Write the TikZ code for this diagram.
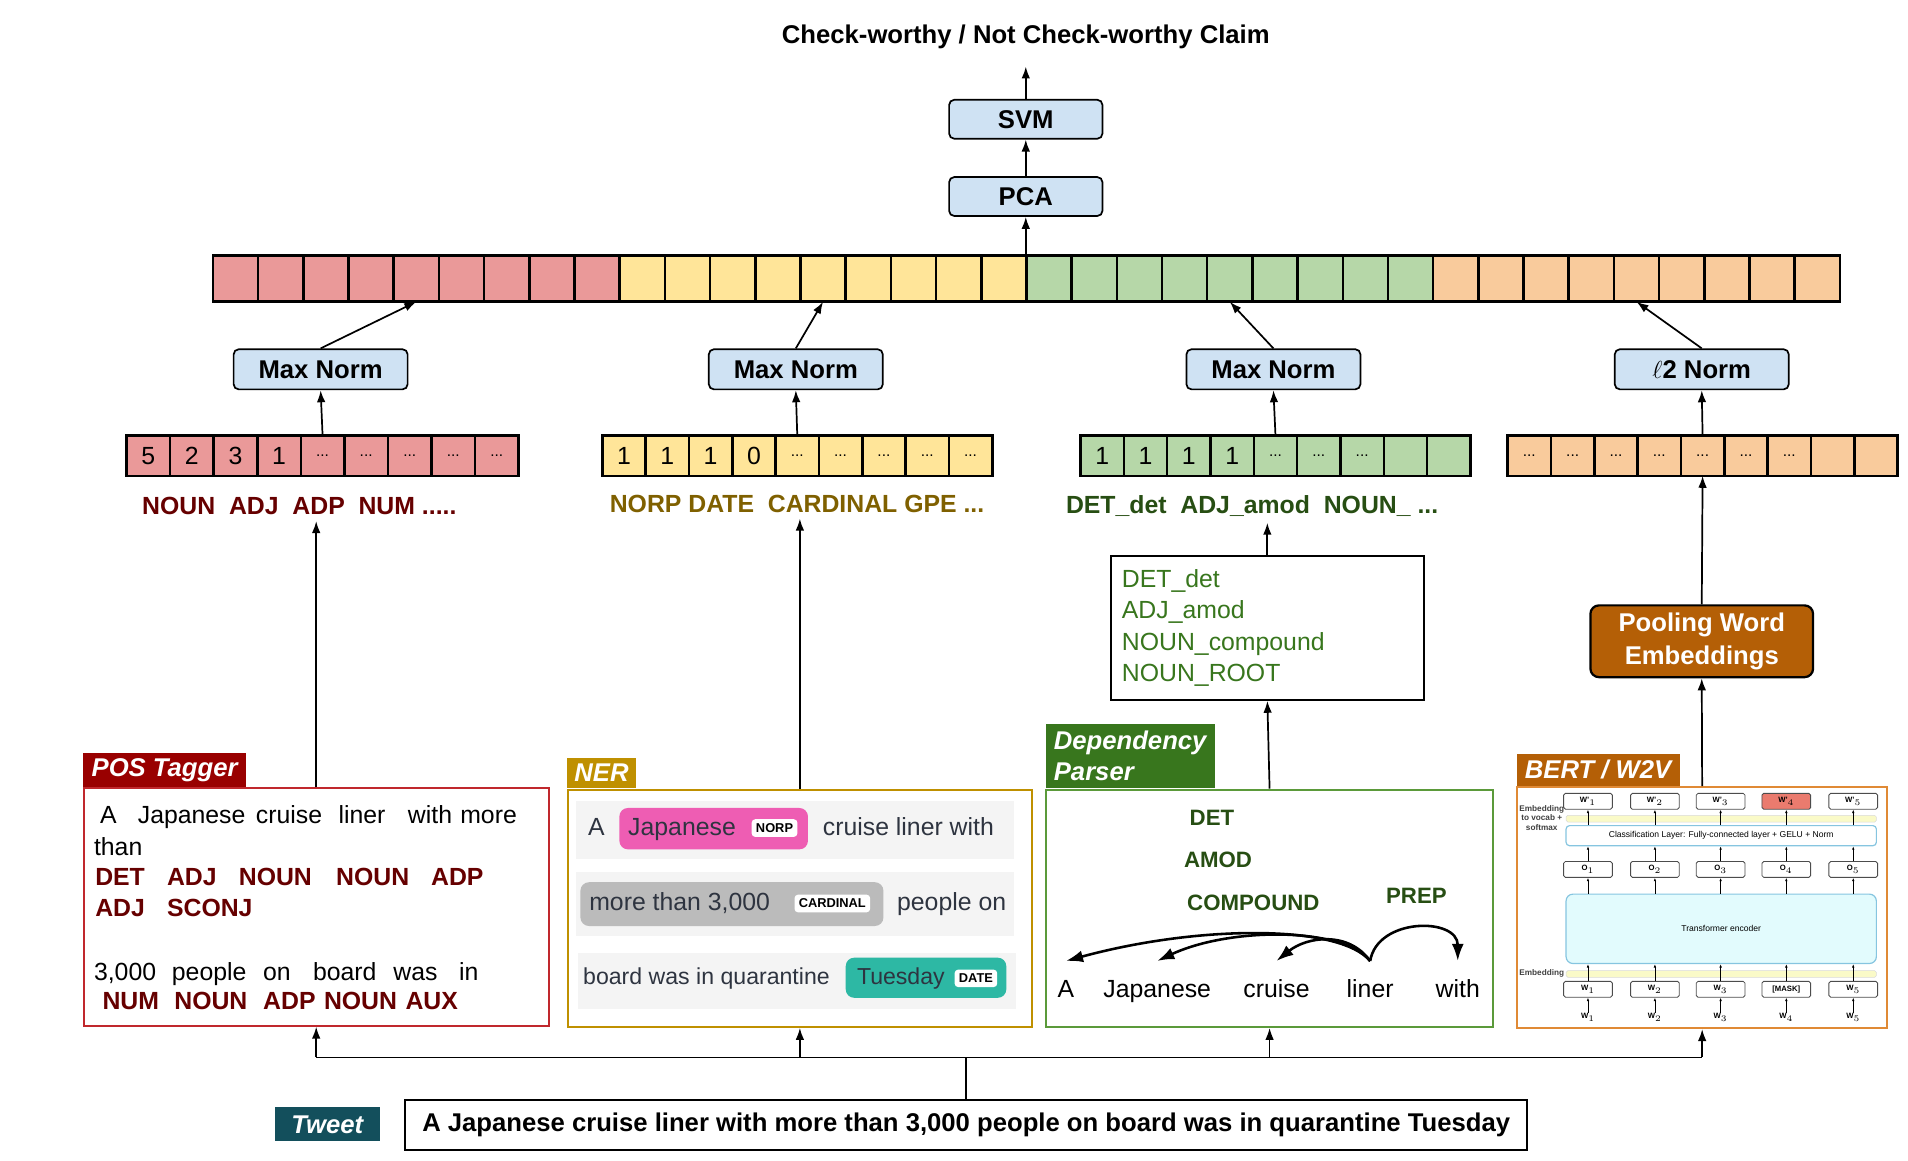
\documentclass[tikz,border=0pt]{standalone}
\usepackage{fontspec}
\setmainfont{Liberation Sans}
\usepackage{tikz}
\usetikzlibrary{arrows,arrows.meta}
\usetikzlibrary{calc}
\usetikzlibrary{positioning}

\definecolor{cwRed}{HTML}{EA9999}
\definecolor{cwYellow}{HTML}{FFE599}
\definecolor{cwGreen}{HTML}{B6D7A8}
\definecolor{cwOrange}{HTML}{F9CB9C}
\definecolor{cwBlue}{HTML}{CFE2F3}
\definecolor{posTab}{HTML}{990000}
\definecolor{posLine}{HTML}{C0282D}
\definecolor{posText}{HTML}{660000}
\definecolor{nerTab}{HTML}{BF9000}
\definecolor{nerText}{HTML}{7F6000}
\definecolor{nerInk}{HTML}{2E3440}
\definecolor{nerRow}{HTML}{F4F4F4}
\definecolor{norpPink}{HTML}{EE5DB3}
\definecolor{cardGray}{HTML}{BBBBBB}
\definecolor{dateTeal}{HTML}{2DB8A4}
\definecolor{depTab}{HTML}{38761D}
\definecolor{depLine}{HTML}{5B9A3A}
\definecolor{depText}{HTML}{274E13}
\definecolor{bertTab}{HTML}{B45F06}
\definecolor{bertLine}{HTML}{E08A35}
\definecolor{bertPink}{HTML}{EA7B6E}
\definecolor{bertBand}{HTML}{FAFAC8}
\definecolor{bertEnc}{HTML}{E2FBFD}
\definecolor{bertEdge}{HTML}{86C5E0}
\definecolor{tweetTab}{HTML}{134F5C}

\newcommand{\CWpx}{0.025cm}
\newcommand{\CWSize}[1]{\fontsize{#1}{#1}\selectfont}
\newcommand{\CWdots}{{\CWSize{9}...}}
\newcommand{\CWVector}[7]{
  \foreach \val [count=\idx] in {#7} {
    \node[cwcell, fill=#6, minimum width={#4*\CWpx}, minimum height={#5*\CWpx}, anchor=north west]
      (#1-\idx) at ({#2+(\idx-1)*#4}, #3) {\val};
  }
}
\newcommand{\CWModule}[6]{
  \node[cwmodule, draw=#6, minimum width={#4*\CWpx}, minimum height={#5*\CWpx}, anchor=north west]
    (#1) at (#2,#3) {};
}
\newcommand{\CWTab}[6]{
  \node[cwtab, fill=#3, minimum width={#4*\CWpx}, minimum height={#5*\CWpx}, anchor=south west]
    (#1) at (#2.north west) {#6};
}
\newcommand{\CWWords}[4]{
  \foreach \xx/\wrd [count=\idx] in {#4} {
    \node[anchor=base west, inner sep=0pt, #3] (#1-\idx) at (\xx,#2) {\wrd};
  }
}

\tikzset{
  cwcell/.style={draw, line width=1.5pt, inner sep=0pt, outer sep=0pt},
  cwbox/.style={draw, line width=1pt, fill=cwBlue, rounded corners=3pt, font=\CWSize{15}\bfseries},
  cwnorm/.style={cwbox, minimum width={143*\CWpx}, minimum height={33*\CWpx}},
  cwmodule/.style={line width=1.2pt, inner sep=0pt},
  cwtab/.style={inner sep=3pt, text=white, font=\fontsize{15}{18}\selectfont\bfseries\itshape, align=left},
  cwlabel/.style={font=\CWSize{14.5}\bfseries},
  cwarrow/.style={-{Latex[length=7pt,width=5pt]}, line width=1pt},
  nertxt/.style={anchor=west, inner sep=0pt, text=nerInk, text height=10.5pt, text depth=3pt},
  nerpill/.style={rounded corners=5pt, inner sep=0pt},
  nertag/.style={fill=white, rounded corners=2pt, inner sep=2.5pt, font=\CWSize{7.5}\bfseries},
  deplab/.style={font=\CWSize{13}\bfseries, text=depText},
  deptxt/.style={anchor=base, text height=11pt, text depth=3pt},
  deparc/.style={-{Latex[length=10pt,width=7pt]}, line width=1.5pt},
  bertcell/.style={draw=black!70, line width=0.5pt, fill=white, rounded corners=1pt,
    minimum width={40*\CWpx}, minimum height={13*\CWpx}, inner sep=0pt, font=\CWSize{4.5}\bfseries},
  berttiny/.style={inner sep=0pt, font=\CWSize{4.5}\bfseries},
  bertarrow/.style={-{Latex[length=2pt,width=1.5pt]}, line width=0.4pt},
}

\begin{document}
\begin{tikzpicture}[x=\CWpx, y=-\CWpx, font=\CWSize{14.5}]
\useasboundingbox (0,0) rectangle (1568,954);

% classifier on top
\node[font=\CWSize{15}\bfseries] (title) at (843,30) {Check-worthy / Not Check-worthy Claim};
\node[cwbox, minimum width={126*\CWpx}, minimum height={32*\CWpx}] (svm) at (843,98) {SVM};
\node[cwbox, minimum width={126*\CWpx}, minimum height={32*\CWpx}] (pca) at (843,161.5) {PCA};

\CWVector{bigA}{175}{210}{37.14}{38}{cwRed}{{},{},{},{},{},{},{},{},{}}
\CWVector{bigB}{509.26}{210}{37.14}{38}{cwYellow}{{},{},{},{},{},{},{},{},{}}
\CWVector{bigC}{843.52}{210}{37.14}{38}{cwGreen}{{},{},{},{},{},{},{},{},{}}
\CWVector{bigD}{1177.78}{210}{37.14}{38}{cwOrange}{{},{},{},{},{},{},{},{},{}}

\draw[cwarrow] (pca.south |- bigB-9.north) -- (pca.south);
\draw[cwarrow] (pca.north) -- (svm.south);
\draw[cwarrow, shorten >=7pt] (svm.north) -- (title.south);

\node[cwnorm] (normPos) at (263.5,303.5) {Max Norm};
\node[cwnorm] (normNer) at (654,303.5) {Max Norm};
\node[cwnorm] (normDep) at (1046.5,303.5) {Max Norm};
\node[cwnorm] (normBert) at (1398.5,303.5) {$\ell$2 Norm};

\draw[cwarrow] (normPos.north) -- (bigA-5.south);
\draw[cwarrow] (normNer.north) -- (bigB-5.south);
\draw[cwarrow] (normDep.north) -- (bigC-5.south);
\draw[cwarrow] (normBert.north) -- (bigD-5.south);

\CWVector{vecPos}{104}{358}{35.8}{33}{cwRed}{5,2,3,1,\CWdots,\CWdots,\CWdots,\CWdots,\CWdots}
\CWVector{vecNer}{495}{358}{35.6}{33}{cwYellow}{1,1,1,0,\CWdots,\CWdots,\CWdots,\CWdots,\CWdots}
\CWVector{vecDep}{888}{358}{35.6}{33}{cwGreen}{1,1,1,1,\CWdots,\CWdots,\CWdots,{},{}}
\CWVector{vecBert}{1239}{358}{35.6}{33}{cwOrange}{\CWdots,\CWdots,\CWdots,\CWdots,\CWdots,\CWdots,\CWdots,{},{}}

\draw[cwarrow] (vecPos-5.north) -- (normPos.south);
\draw[cwarrow] (vecNer-5.north) -- (normNer.south);
\draw[cwarrow] (vecDep-5.north) -- (normDep.south);
\draw[cwarrow] (vecBert-5.north) -- (normBert.south);

\node[cwlabel, text=posText] (labPos) at (246,416) {NOUN\ \ ADJ\ \ ADP\ \ NUM .....};
\node[cwlabel, text=nerText] (labNer) at (655,414) {NORP DATE\ \ CARDINAL GPE ...};
\node[cwlabel, text=depText] (labDep) at (1029,416) {DET\_det\ \ ADJ\_amod\ \ NOUN\_ ...};

\node[draw, line width=1.3pt, align=left, text=depTab, text width={239*\CWpx}, inner sep={9*\CWpx},
  minimum height={118*\CWpx}, font=\fontsize{14.5}{18.3}\selectfont] (depList) at (1041.5,516)
  {DET\_det\\ADJ\_amod\\NOUN\_compound\\NOUN\_ROOT};

\node[draw, line width=1.3pt, fill=bertTab, rounded corners=5pt, text=white, align=center,
  font=\fontsize{15}{19}\selectfont\bfseries, minimum width={183*\CWpx}, minimum height={59*\CWpx}]
  (pool) at (1398.5,527) {Pooling Word\\Embeddings};

% the four feature extractors
\CWModule{posBox}{68}{647}{382}{195}{posLine}
\CWModule{nerBox}{466}{648}{381}{195}{nerTab}
\CWModule{depBox}{859}{648}{367}{195}{depLine}
\CWModule{bertBox}{1246}{646}{304}{198}{bertLine}
\CWTab{posTag}{posBox}{posTab}{134}{25}{POS Tagger}
\CWTab{nerTag}{nerBox}{nerTab}{56}{25}{NER}
\CWTab{depTag}{depBox}{depTab}{139}{53}{Dependency\\Parser}
\CWTab{bertTag}{bertBox}{bertTab}{134}{26}{BERT / W2V}

\draw[cwarrow] (posBox.north) -- (posBox.north |- labPos.south);
\draw[cwarrow] (nerBox.north) -- (nerBox.north |- labNer.south);
\draw[cwarrow] (depBox.north) -- (depList.south);
\draw[cwarrow] (depList.north) -- (depList.north |- labDep.south);
\draw[cwarrow] (bertBox.north) -- (pool.south);
\draw[cwarrow] (pool.north) -- (vecBert-5.south);

% POS Tagger
\CWWords{posA}{677}{}{82/A, 113/Japanese, 210/cruise, 278/liner, 335/with, 378/more}
\CWWords{posB}{703}{}{77/than}
\CWWords{posC}{728}{font=\CWSize{14.5}\bfseries, text=posText}{78/DET, 137/ADJ, 196/NOUN, 276/NOUN, 354/ADP}
\CWWords{posD}{753}{font=\CWSize{14.5}\bfseries, text=posText}{78/ADJ, 137/SCONJ}
\CWWords{posE}{806}{}{77/{3,000}, 141/people, 216/on, 257/board, 323/was, 377/in}
\CWWords{posF}{830}{font=\CWSize{14.5}\bfseries, text=posText}{84/NUM, 143/NOUN, 216/ADP, 266/NOUN, 333/AUX}

% NER
\fill[nerRow] (473,658) rectangle (833,706);
\fill[nerRow] (473,717) rectangle (833,769);
\fill[nerRow] (475,783) rectangle (835,829);
\node[nerpill, fill=norpPink, minimum width={155*\CWpx}, minimum height={34*\CWpx}] (pillNorp) at (586.5,681) {};
\node[nerpill, fill=cardGray, minimum width={249*\CWpx}, minimum height={36*\CWpx}] (pillCard) at (601.5,743) {};
\node[nerpill, fill=dateTeal, minimum width={132*\CWpx}, minimum height={33*\CWpx}] (pillDate) at (761,803.5) {};
\node[nertag] (tagNorp) at (636.5,680.5) {NORP};
\node[nertag] (tagCard) at (684,742.5) {CARDINAL};
\node[nertag] (tagDate) at (802,804) {DATE};
\node[nertxt, font=\CWSize{14.5}] (nerA) at (483,681) {A};
\node[nertxt, font=\CWSize{14.5}] (nerJap) at (516,681) {Japanese};
\node[nertxt, font=\CWSize{14.5}] (nerCruise) at (676,681) {cruise liner with};
\node[nertxt, font=\CWSize{14.5}] (nerMore) at (484,743) {more than 3,000};
\node[nertxt, font=\CWSize{14.5}] (nerPeople) at (737,743) {people on};
\node[nertxt, font=\CWSize{13.5}] (nerBoard) at (479,804) {board was in quarantine};
\node[nertxt, font=\CWSize{13.5}] (nerTue) at (704,804) {Tuesday};

% Dependency parser
\node[deplab] (depDet) at (996,672) {DET};
\node[deplab] (depAmod) at (1001,707) {AMOD};
\node[deplab] (depComp) at (1030,742) {COMPOUND};
\node[deplab] (depPrep) at (1164,736) {PREP};
\node[deptxt] (depA) at (876,820) {A};
\node[deptxt] (depJap) at (951,820) {Japanese};
\node[deptxt] (depCru) at (1049,820) {cruise};
\node[deptxt] (depLin) at (1126,820) {liner};
\node[deptxt] (depWith) at (1198,820) {with};
\draw[deparc] ([yshift=7pt]depLin.north) .. controls +(-25,-30) and +(110,-30) .. ([yshift=7pt]depA.north);
\draw[deparc] ([yshift=7pt]depLin.north) .. controls +(-22,-28) and +(60,-28) .. ([yshift=7pt]depJap.north);
\draw[deparc] ([yshift=7pt]depLin.north) .. controls +(-18,-25) and +(25,-20) .. ([yshift=7pt]depCru.north);
\draw[deparc] ([yshift=7pt]depLin.north) .. controls +(6,-36) and +(0,-36) .. ([yshift=7pt]depWith.north);

% BERT / W2V
\fill[bertBand, draw=black!15, line width=0.3pt, rounded corners=1pt] (1287,670) rectangle (1542,675.6);
\fill[bertBand, draw=black!15, line width=0.3pt, rounded corners=1pt] (1287,797.7) rectangle (1542,803.2);
\node[draw=bertEdge, line width=0.7pt, fill=white, rounded corners=2pt, minimum width={255*\CWpx},
  minimum height={16.5*\CWpx}, inner sep=0pt, font=\CWSize{5}] (bCls) at (1414.5,686.75)
  {Classification Layer: Fully-connected layer + GELU + Norm};
\node[draw=bertEdge, line width=0.7pt, fill=bertEnc, rounded corners=4pt, minimum width={255*\CWpx},
  minimum height={57*\CWpx}, inner sep=0pt, font=\CWSize{5}] (bEnc) at (1414.5,763.3) {Transformer encoder};
\node[align=center, inner sep=0pt, font=\fontsize{4.8}{5.6}\selectfont\bfseries, text=black!75] (bEmbTop) at (1267,672) {Embedding\\to vocab +\\softmax};
\node[inner sep=0pt, font=\fontsize{4.8}{5.6}\selectfont\bfseries, text=black!75] (bEmb) at (1267,800) {Embedding};
\foreach \k/\xx/\f/\wrd in {1/1305/white/W$_1$, 2/1360/white/W$_2$, 3/1414/white/W$_3$, 4/1468/bertPink/[MASK], 5/1523/white/W$_5$} {
  \node[bertcell, fill=\f] (bwp\k) at (\xx,658.5) {W'$_\k$};
  \node[bertcell] (bo\k) at (\xx,714.5) {O$_\k$};
  \node[bertcell] (bw\k) at (\xx,813) {\wrd};
  \node[berttiny] (bin\k) at (\xx,836) {W$_\k$};
  \draw[bertarrow] (bin\k) -- (bw\k);
  \draw[bertarrow] (bw\k) -- (bw\k |- bEnc.south);
  \draw[bertarrow] (bw\k |- bEnc.north) -- (bo\k);
  \draw[bertarrow] (bo\k) -- (bo\k |- bCls.south);
  \draw[bertarrow] (bo\k |- bCls.north) -- (bwp\k);
}

% input tweet
\node[draw, line width=1.5pt, minimum width={922*\CWpx}, minimum height={41*\CWpx}, font=\CWSize{15}\bfseries]
  (tweet) at (794,924.5) {A Japanese cruise liner with more than 3,000 people on board was in quarantine Tuesday};
\node[fill=tweetTab, text=white, font=\CWSize{15}\bfseries\itshape, minimum width={86*\CWpx},
  minimum height={28*\CWpx}] (tweetTag) at (269,924) {Tweet};

\coordinate (bus) at ($(tweet.north)+(0,-34)$);
\draw[line width=1pt] (tweet.north) -- (bus);
\draw[line width=1pt] (posBox.south |- bus) -- (bertBox.south |- bus);
\foreach \b in {posBox,nerBox,depBox,bertBox}
  \draw[cwarrow] (\b.south |- bus) -- (\b.south);
\end{tikzpicture}
\end{document}
